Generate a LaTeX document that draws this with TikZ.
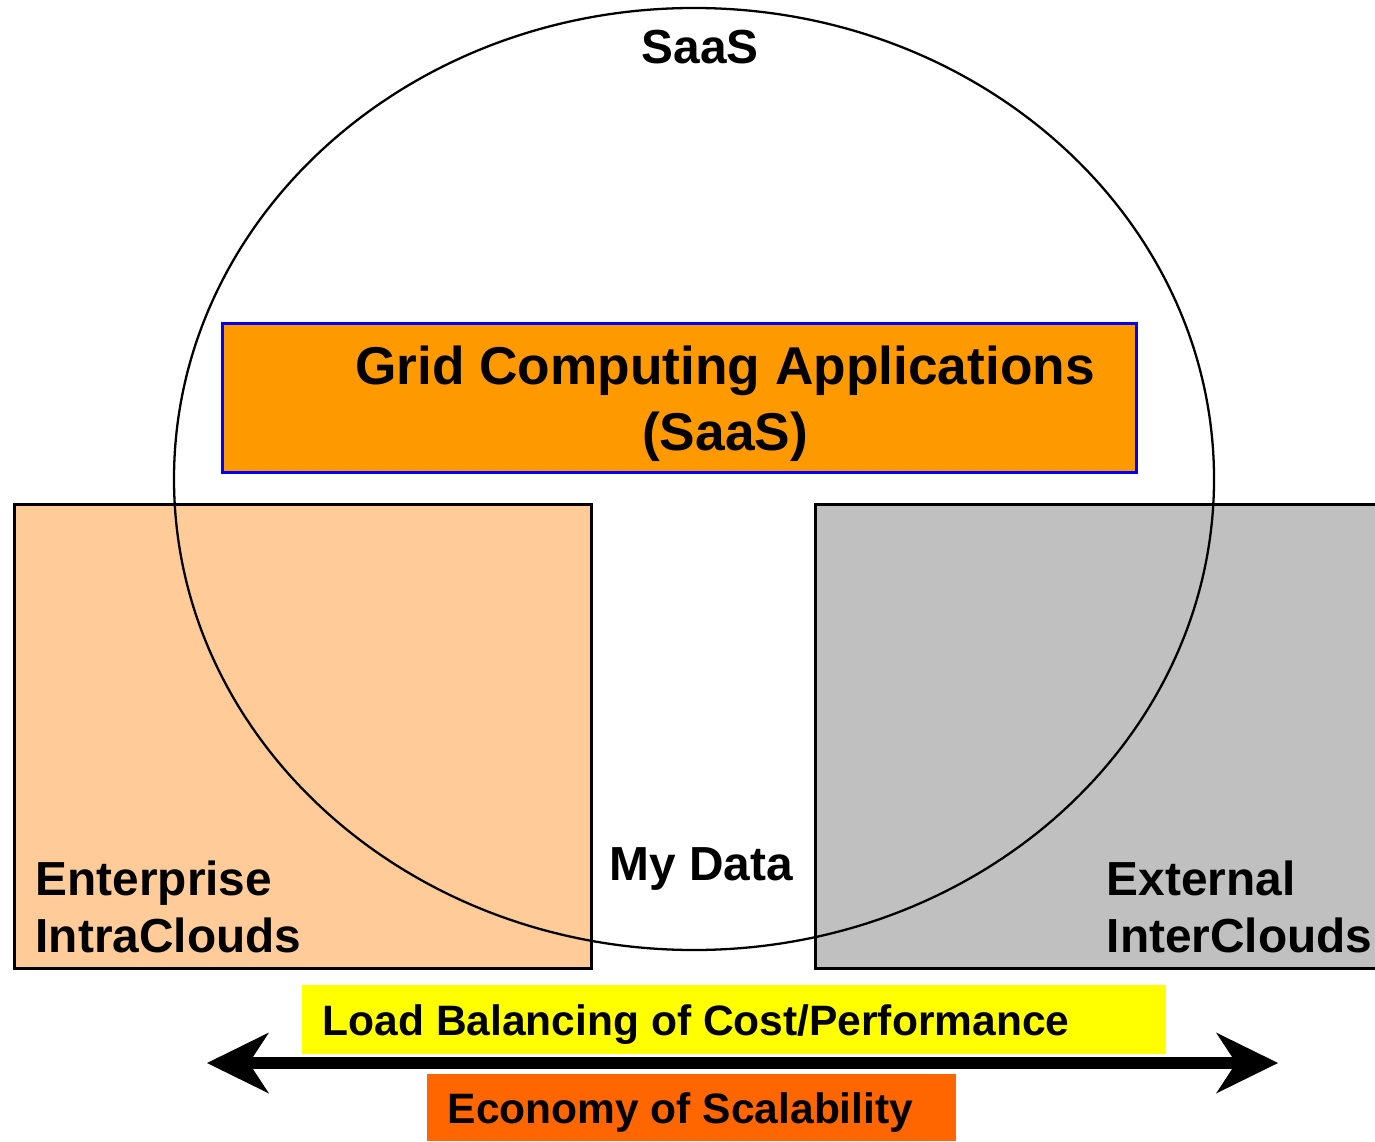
\documentclass[tikz,border=0pt]{standalone}
\usepackage{fontspec}
\setmainfont{Liberation Sans}
\usepackage{xcolor}
\usetikzlibrary{arrows.meta,positioning,shapes.geometric}

\definecolor{intrapeach}{HTML}{FFCC99}
\definecolor{intergray}{HTML}{C0C0C0}
\definecolor{gridorange}{HTML}{FF9900}
\definecolor{loadyellow}{HTML}{FFFF00}
\definecolor{econorange}{HTML}{FF6600}

\begin{document}
\begin{tikzpicture}[
    every node/.style={font=\bfseries\fontsize{12.1}{16.2}\selectfont, inner sep=0pt},
    bigtext/.style={font=\bfseries\fontsize{13.6}{16.2}\selectfont},
    cloudbox/.style={rectangle, draw, line width=0.85pt, anchor=north west, minimum width=5.77cm, minimum height=4.64cm},
    bandbox/.style={rectangle, anchor=north west},
    label/.style={bigtext, anchor=base west, align=left},
    scalearrow/.style={line width=3.5pt, {Stealth[length=0.62cm, width=0.61cm, inset=0.20cm, line width=0pt]}-{Stealth[length=0.62cm, width=0.61cm, inset=0.20cm, line width=0pt]}},
]
    \useasboundingbox (0,0) rectangle (13.75,-11.41);

    % Clouds on both sides
    \node[cloudbox, fill=intrapeach] (intra) at (0.13,-5.03) {};
    \node[cloudbox, fill=intergray, minimum width=5.80cm] (inter) at (8.14,-5.03) {};

    % SaaS ring
    \node[ellipse, draw, line width=0.65pt, minimum width=10.40cm, minimum height=9.42cm] (saas) at (6.94,-4.79) {};

    % Applications
    \node[bandbox, fill=gridorange, draw=blue, line width=0.85pt, minimum width=9.14cm, minimum height=1.49cm] (grid) at (2.21,-3.22) {};
    \node[anchor=base, align=center, font=\bfseries\fontsize{15.15}{18.8}\selectfont] (gridtext) at (7.25,-4.51) {Grid Computing Applications\\(SaaS)};

    % Labels
    \node[bigtext, anchor=base] (saastext) at (7.00,-0.64) {SaaS};
    \node[bigtext, anchor=base] (mydata) at (7.01,-8.80) {My Data};
    \node[label] (intratext) at (0.35,-9.52) {Enterprise\\IntraClouds};
    \node[label] (intertext) at (11.06,-9.52) {External\\InterClouds};

    % Bottom bands
    \node[bandbox, fill=loadyellow, minimum width=8.64cm, minimum height=0.69cm] (load) at (3.01,-9.84) {};
    \node[bandbox, fill=econorange, minimum width=5.29cm, minimum height=0.67cm] (econ) at (4.26,-10.73) {};
    \node[anchor=base west] (loadtext) at (3.22,-10.35) {Load Balancing of Cost/Performance};
    \node[anchor=base west] (econtext) at (4.47,-11.23) {Economy of Scalability};

    % Scale arrow
    \coordinate (lefttip) at (2.07,-10.63);
    \coordinate (righttip) at (12.78,-10.63);
    \draw[scalearrow] (lefttip) -- (righttip);
\end{tikzpicture}
\end{document}
